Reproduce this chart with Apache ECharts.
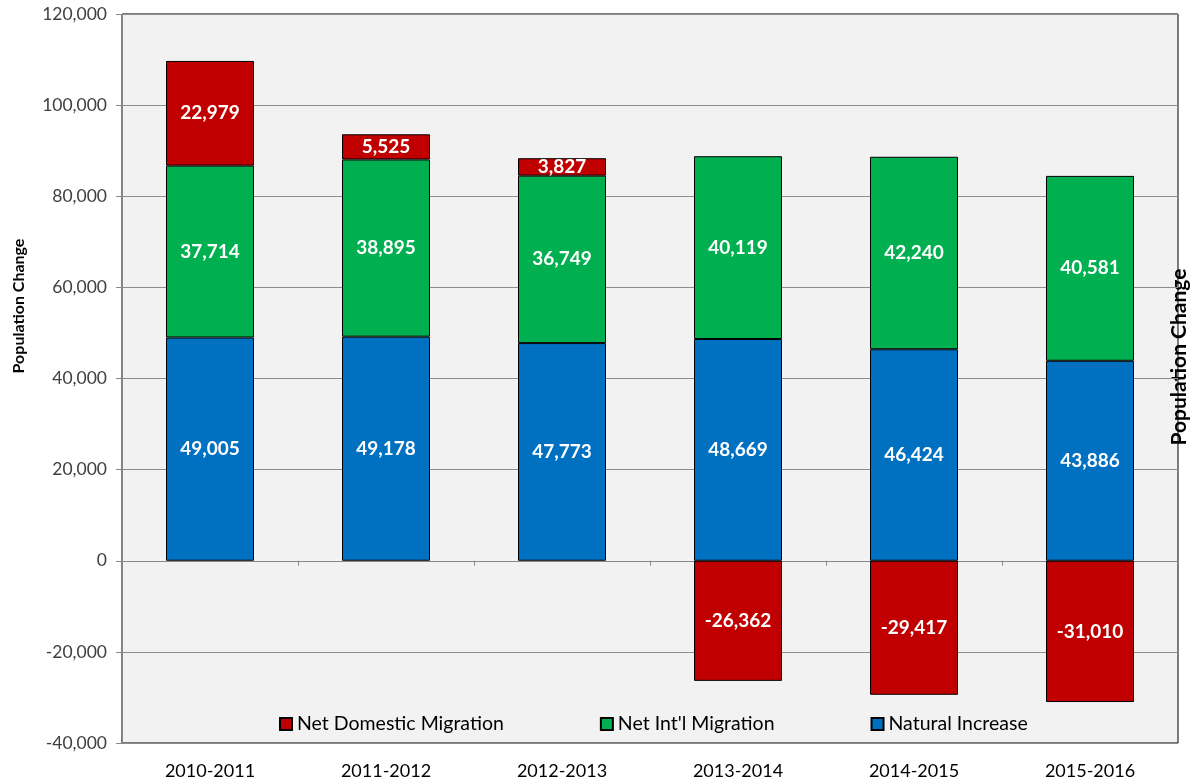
<!DOCTYPE html>
<html>
<head>
<meta charset="utf-8">
<script src="https://cdn.jsdelivr.net/npm/echarts@6/dist/echarts.min.js"></script>
<style>
  html, body { margin: 0; padding: 0; background: #fff; }
  #chart { width: 1191px; height: 784px; }
</style>
</head>
<body>
<div id="chart"></div>
<script>
// data
var years = ['2010-2011', '2011-2012', '2012-2013', '2013-2014', '2014-2015', '2015-2016'];
var naturalIncrease = [49005, 49178, 47773, 48669, 46424, 43886];
var intlMigration = [37714, 38895, 36749, 40119, 42240, 40581];
var domesticMigration = [22979, 5525, 3827, -26362, -29417, -31010];

var font = 'Lato, "Open Sans", sans-serif';

function fmt(v) {
    return v.toLocaleString('en-US');
}

var labelStyle = {
    show: true,
    position: 'inside',
    color: '#fff',
    fontWeight: 'bold',
    fontSize: 19,
    fontFamily: font,
    formatter: function (p) { return fmt(p.value); }
};

function barSeries(name, data, color) {
    return {
        name: name,
        type: 'bar',
        stack: 'total',
        data: data,
        barWidth: '50%',
        itemStyle: { color: color, borderColor: '#000', borderWidth: 1 },
        label: labelStyle
    };
}

var myChart = echarts.init(document.getElementById('chart'));
var option = {
    backgroundColor: '#fff',
    animation: false,
    grid: {
        left: 122,
        right: 13,
        top: 14,
        bottom: 41,
        show: true,
        backgroundColor: '#F2F2F2',
        borderColor: '#000',
        borderWidth: 1
    },
    legend: {
        data: ['Net Domestic Migration', "Net Int'l Migration", 'Natural Increase'],
        icon: 'rect',
        left: 274,
        top: 709,
        itemWidth: 12,
        itemHeight: 12,
        itemGap: 96,
        textStyle: { fontSize: 19.5, color: '#000', fontFamily: font }
    },
    xAxis: [{
        type: 'category',
        data: years,
        position: 'bottom',
        axisLine: { show: false, onZero: false },
        axisTick: { show: false },
        axisLabel: { color: '#000', fontSize: 18, fontFamily: font, margin: 19 }
    }, {
        type: 'category',
        data: years,
        position: 'top',
        axisLine: { show: true, onZero: true, lineStyle: { color: '#888', width: 1 } },
        axisTick: { show: true, inside: true, length: 5, lineStyle: { color: '#888' } },
        axisLabel: { show: false }
    }],
    yAxis: {
        type: 'value',
        min: -40000,
        max: 120000,
        interval: 20000,
        axisLine: { show: true, lineStyle: { color: '#888' } },
        axisTick: { show: true, length: 6, lineStyle: { color: '#888' } },
        splitLine: { lineStyle: { color: '#8c8c8c', width: 1 } },
        axisLabel: {
            color: '#404040',
            fontSize: 17.5,
            fontFamily: font,
            margin: 15,
            formatter: function (v) { return fmt(v); }
        }
    },
    graphic: [{
        type: 'text',
        x: 19,
        y: 306,
        rotation: Math.PI / 2,
        style: {
            text: 'Population Change',
            fontSize: 16,
            fontWeight: 'bold',
            fontFamily: font,
            fill: '#000',
            align: 'center',
            verticalAlign: 'middle'
        }
    }, {
        type: 'text',
        x: 1179,
        y: 357,
        rotation: Math.PI / 2,
        style: {
            text: 'Population Change',
            fontSize: 21,
            fontWeight: 'bold',
            fontFamily: font,
            fill: '#000',
            align: 'center',
            verticalAlign: 'middle'
        }
    }],
    series: [
        barSeries('Natural Increase', naturalIncrease, '#0070C0'),
        barSeries("Net Int'l Migration", intlMigration, '#00B050'),
        barSeries('Net Domestic Migration', domesticMigration, '#C00000')
    ]
};
myChart.setOption(option);
window.addEventListener('resize', myChart.resize);
</script>
</body>
</html>
